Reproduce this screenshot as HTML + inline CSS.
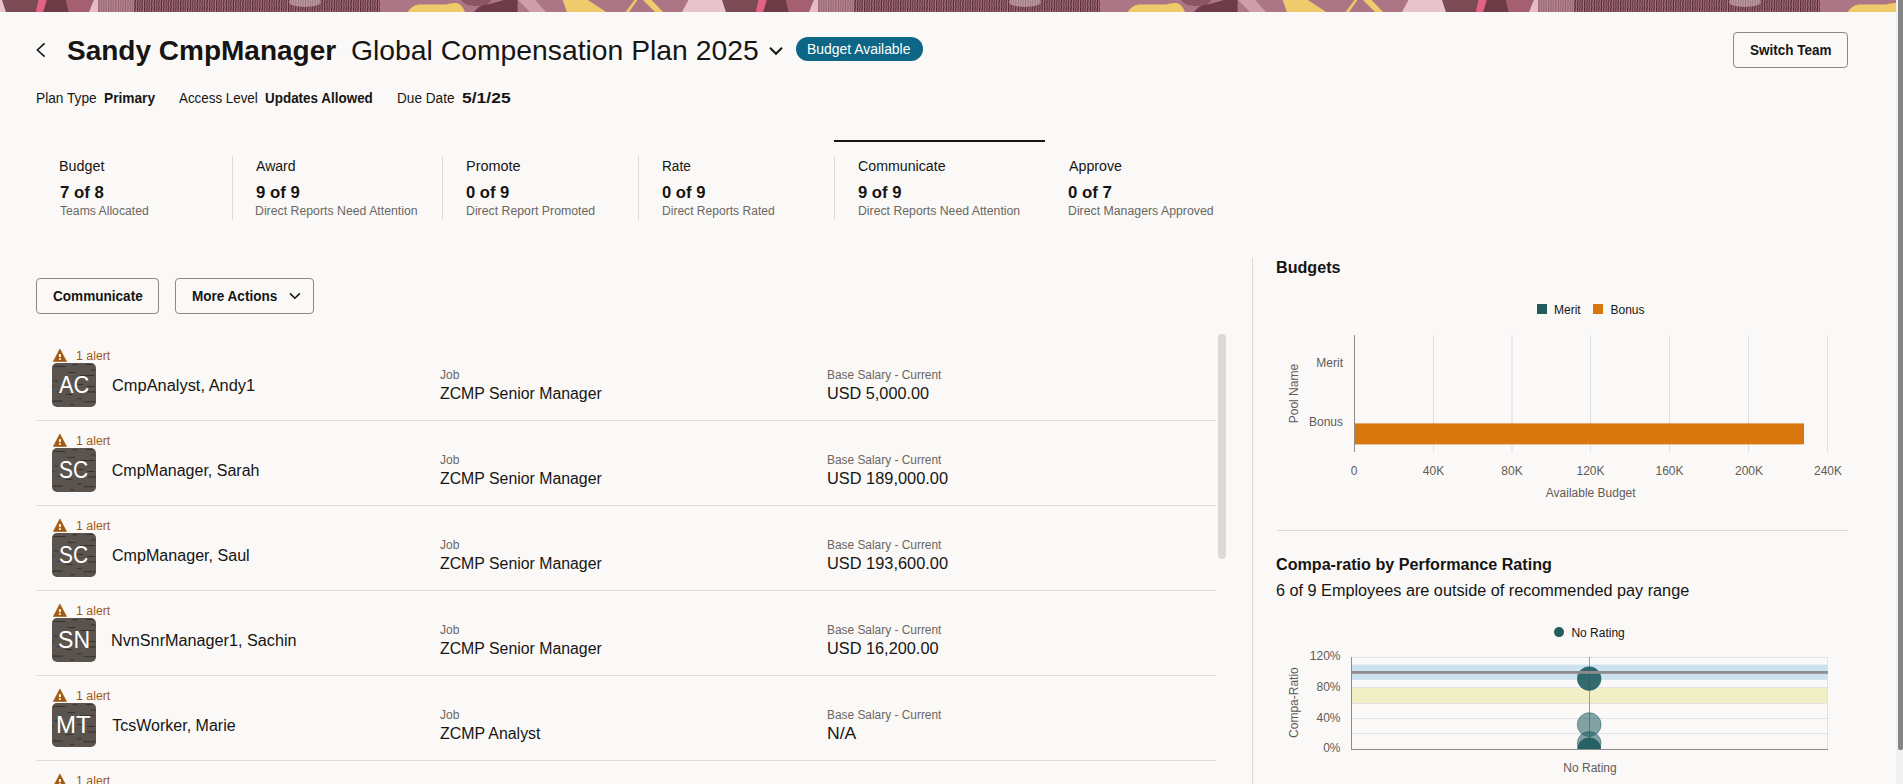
<!DOCTYPE html>
<html lang="en">
<head>
<meta charset="utf-8">
<title>Global Compensation Plan 2025 - Sandy CmpManager</title>
<style>
html,body{margin:0;padding:0;}
body{width:1903px;height:784px;overflow:hidden;background:#faf9f8;font-family:"Liberation Sans",Arial,sans-serif;color:#161513;position:relative;}
.t{position:absolute;white-space:nowrap;line-height:1;transform-origin:0 0;}
.abs{position:absolute;}
.banner{position:absolute;left:0;top:0;width:1896px;height:12px;overflow:hidden;}
.btn{position:absolute;box-sizing:border-box;border:1px solid #8d8984;border-radius:4px;}
.badge{position:absolute;left:796px;top:37px;width:127px;height:24px;border-radius:12px;background:#0d6685;}
.tabsel{position:absolute;left:834px;top:140px;width:211px;height:2px;background:#161513;}
.tdiv{position:absolute;top:156px;width:1px;height:64px;background:#dedbd7;}
.av{position:absolute;left:52px;width:44px;height:44px;border-radius:5px;overflow:hidden;background:#5b544e;color:#fff;}
.av svg{position:absolute;left:0;top:0;}
.av span{position:absolute;left:0;top:12px;width:44px;text-align:center;font-size:22px;line-height:1;}
.warn{position:absolute;left:53px;}
.sep{position:absolute;left:36px;width:1180px;height:1px;background:#dfdcd8;}
.vscroll{position:absolute;left:1218px;top:334px;width:8px;height:225px;border-radius:4px;background:#dcdad7;}
.vdiv{position:absolute;left:1252px;top:258px;width:1px;height:526px;background:#dcd9d5;}
.hdiv{position:absolute;left:1277px;top:530px;width:571px;height:1px;background:#dcd9d5;}
.pscroll{position:absolute;left:1896px;top:0;width:7px;height:784px;background:#f1f1f1;}
.pthumb{position:absolute;left:1898px;top:0;width:5px;height:750px;background:#858585;border-radius:0 0 2px 2px;}
svg text{font-family:"Liberation Sans",Arial,sans-serif;}
</style>
</head>
<body>
<!-- banner -->
<svg class="banner" width="1896" height="12" viewBox="0 0 1896 12">
 <defs>
  <pattern id="lines" width="7.2" height="12" patternUnits="userSpaceOnUse">
   <rect width="7.2" height="12" fill="#ab7684"/>
   <path d="M0.6,0 C1.8,2 -0.4,4 0.6,6 C1.6,8 -0.4,10 0.6,12 M3,0 C4.2,2 2,4 3,6 C4,8 2,10 3,12 M5.4,0 C6.6,2 4.4,4 5.4,6 C6.4,8 4.4,10 5.4,12" fill="none" stroke="#4f2430" stroke-width="1.15"/>
  </pattern>
  <pattern id="tile" width="720" height="12" patternUnits="userSpaceOnUse">
   <rect width="720" height="12" fill="#ac7684"/>
   <polygon points="-2,0 2.2,0 6,12 -2,12" fill="#e7c4cc"/>
   <polygon points="2.2,0 38.5,0 36,12 6,12" fill="#7a4a55"/>
   <polygon points="38.5,0 46.7,0 43.2,12 36,12" fill="#e5617f"/>
   <polygon points="46.7,0 66,0 69,12 43.2,12" fill="#6d3c47"/>
   <polygon points="66,0 94,0 89,12 69,12" fill="#a46070"/>
   <polygon points="94,0 98,0 98,12 89,12" fill="#e3bcc5"/>
   <rect x="98" y="0" width="282" height="12" fill="url(#lines)"/>
   <rect x="98" y="0" width="36" height="12" fill="#d7a9b5" opacity="0.45"/>
   <ellipse cx="305" cy="2" rx="16" ry="5" fill="#e9d3d8" opacity="0.45"/>
   <path d="M408,12 C410,8 414,5 420,4.5 L445,4.6 C449,4 452,2.8 456,3 C460,3.4 463,7 465,12 Z" fill="#f0cb6c"/>
   <path d="M461,0 L491,0 C489,4 484,6 476,6 C468,6 463,3 461,0 Z" fill="#8b5562"/>
   <path d="M474,12 C478,7 482,4 490,4 L504,0 L517.6,0 L517.6,12 Z" fill="#6d3c48"/>
   <polygon points="518,0 535,0 546,12 530,12" fill="#cf9eab"/>
   <polygon points="562.7,0 587.8,0 606.2,12 567,12" fill="#f0cb6c"/>
   <polygon points="634.6,0 637.4,0 629,12 625.6,12" fill="#f0cb6c"/>
   <polygon points="643,0 651.6,0 663,12 655,12" fill="#f0cb6c"/>
   <polygon points="688.5,0 722,0 726,12 682,12" fill="#e7c4cc"/>
  </pattern>
 </defs>
 <rect width="1896" height="12" fill="url(#tile)"/>
</svg>

<!-- header -->
<svg class="abs" style="left:30px;top:40px" width="20" height="20" viewBox="0 0 20 20"><polyline points="14.6,3.4 7.4,10 14.6,16.6" fill="none" stroke="#161513" stroke-width="1.6"/></svg>
<svg class="abs" style="left:766px;top:44px" width="20" height="14" viewBox="0 0 20 14"><polyline points="4,3.8 10,9.8 16,3.8" fill="none" stroke="#161513" stroke-width="2"/></svg>
<div class="badge"></div>
<div class="btn" style="left:1733px;top:32px;width:115px;height:36px;"></div>

<!-- tabs -->
<div class="tabsel"></div>
<div class="tdiv" style="left:232px"></div>
<div class="tdiv" style="left:442px"></div>
<div class="tdiv" style="left:638px"></div>
<div class="tdiv" style="left:834px"></div>

<!-- buttons -->
<div class="btn" style="left:36px;top:278px;width:123px;height:36px;"></div>
<div class="btn" style="left:175px;top:278px;width:139px;height:36px;"></div>
<svg class="abs" style="left:285px;top:288px" width="20" height="16" viewBox="0 0 20 16"><polyline points="5,5.4 9.9,10.2 14.8,5.4" fill="none" stroke="#161513" stroke-width="1.6"/></svg>

<!-- list -->
<div class="sep" style="top:420px"></div>
<div class="sep" style="top:505px"></div>
<div class="sep" style="top:590px"></div>
<div class="sep" style="top:675px"></div>
<div class="sep" style="top:760px"></div>
<svg class="warn" style="top:348px" width="15" height="15" viewBox="0 0 15 15"><path d="M6.9 0.9 L13.6 13.5 L0.3 13.5 Z" fill="#a35a10" stroke="#a35a10" stroke-width="0.6" stroke-linejoin="round"/><rect x="5.9" y="6.2" width="2" height="2.9" fill="#fff"/><rect x="5.9" y="10.3" width="2" height="1.6" fill="#fff"/></svg>
<svg class="warn" style="top:433px" width="15" height="15" viewBox="0 0 15 15"><path d="M6.9 0.9 L13.6 13.5 L0.3 13.5 Z" fill="#a35a10" stroke="#a35a10" stroke-width="0.6" stroke-linejoin="round"/><rect x="5.9" y="6.2" width="2" height="2.9" fill="#fff"/><rect x="5.9" y="10.3" width="2" height="1.6" fill="#fff"/></svg>
<svg class="warn" style="top:518px" width="15" height="15" viewBox="0 0 15 15"><path d="M6.9 0.9 L13.6 13.5 L0.3 13.5 Z" fill="#a35a10" stroke="#a35a10" stroke-width="0.6" stroke-linejoin="round"/><rect x="5.9" y="6.2" width="2" height="2.9" fill="#fff"/><rect x="5.9" y="10.3" width="2" height="1.6" fill="#fff"/></svg>
<svg class="warn" style="top:603px" width="15" height="15" viewBox="0 0 15 15"><path d="M6.9 0.9 L13.6 13.5 L0.3 13.5 Z" fill="#a35a10" stroke="#a35a10" stroke-width="0.6" stroke-linejoin="round"/><rect x="5.9" y="6.2" width="2" height="2.9" fill="#fff"/><rect x="5.9" y="10.3" width="2" height="1.6" fill="#fff"/></svg>
<svg class="warn" style="top:688px" width="15" height="15" viewBox="0 0 15 15"><path d="M6.9 0.9 L13.6 13.5 L0.3 13.5 Z" fill="#a35a10" stroke="#a35a10" stroke-width="0.6" stroke-linejoin="round"/><rect x="5.9" y="6.2" width="2" height="2.9" fill="#fff"/><rect x="5.9" y="10.3" width="2" height="1.6" fill="#fff"/></svg>
<svg class="warn" style="top:773px" width="15" height="15" viewBox="0 0 15 15"><path d="M6.9 0.9 L13.6 13.5 L0.3 13.5 Z" fill="#a35a10" stroke="#a35a10" stroke-width="0.6" stroke-linejoin="round"/><rect x="5.9" y="6.2" width="2" height="2.9" fill="#fff"/><rect x="5.9" y="10.3" width="2" height="1.6" fill="#fff"/></svg>
<div class="av" style="top:363px"><svg width="44" height="44" viewBox="0 0 44 44"><rect x="1.2" y="3" width="12.6" height="1.1" rx="0.5" fill="#2b2623" fill-opacity="0.75"/><rect x="20.2" y="1.3" width="5.2" height="1" rx="0.5" fill="#2b2623" fill-opacity="0.75"/><rect x="34" y="0.9" width="6.7" height="1" rx="0.5" fill="#2b2623" fill-opacity="0.75"/><rect x="38.6" y="6.4" width="4.9" height="1" rx="0.5" fill="#2b2623" fill-opacity="0.75"/><rect x="15.3" y="9" width="8.0" height="1" rx="0.5" fill="#2b2623" fill-opacity="0.75"/><rect x="28.2" y="12" width="14.4" height="1.1" rx="0.5" fill="#2b2623" fill-opacity="0.75"/><rect x="2" y="17.5" width="4.0" height="1" rx="0.5" fill="#2b2623" fill-opacity="0.75"/><rect x="0.3" y="22.8" width="2.1" height="1" rx="0.5" fill="#2b2623" fill-opacity="0.75"/><rect x="35.2" y="23" width="7.4" height="1" rx="0.5" fill="#2b2623" fill-opacity="0.75"/><rect x="25.4" y="21.1" width="5.8" height="1" rx="0.5" fill="#2b2623" fill-opacity="0.75"/><rect x="35.8" y="28.3" width="7.7" height="1.1" rx="0.5" fill="#2b2623" fill-opacity="0.75"/><rect x="5" y="28.2" width="3.0" height="0.9" rx="0.5" fill="#2b2623" fill-opacity="0.75"/><rect x="13.8" y="31.1" width="6.7" height="1" rx="0.5" fill="#2b2623" fill-opacity="0.75"/><rect x="25.1" y="35.2" width="4.6" height="1" rx="0.5" fill="#2b2623" fill-opacity="0.75"/><rect x="0.6" y="37.6" width="10.1" height="1.1" rx="0.5" fill="#2b2623" fill-opacity="0.75"/><rect x="31.2" y="38.2" width="12.3" height="1.1" rx="0.5" fill="#2b2623" fill-opacity="0.75"/><rect x="18" y="41.2" width="4.6" height="1" rx="0.5" fill="#2b2623" fill-opacity="0.75"/></svg></div>
<div class="av" style="top:448px"><svg width="44" height="44" viewBox="0 0 44 44"><rect x="1.2" y="3" width="12.6" height="1.1" rx="0.5" fill="#2b2623" fill-opacity="0.75"/><rect x="20.2" y="1.3" width="5.2" height="1" rx="0.5" fill="#2b2623" fill-opacity="0.75"/><rect x="34" y="0.9" width="6.7" height="1" rx="0.5" fill="#2b2623" fill-opacity="0.75"/><rect x="38.6" y="6.4" width="4.9" height="1" rx="0.5" fill="#2b2623" fill-opacity="0.75"/><rect x="15.3" y="9" width="8.0" height="1" rx="0.5" fill="#2b2623" fill-opacity="0.75"/><rect x="28.2" y="12" width="14.4" height="1.1" rx="0.5" fill="#2b2623" fill-opacity="0.75"/><rect x="2" y="17.5" width="4.0" height="1" rx="0.5" fill="#2b2623" fill-opacity="0.75"/><rect x="0.3" y="22.8" width="2.1" height="1" rx="0.5" fill="#2b2623" fill-opacity="0.75"/><rect x="35.2" y="23" width="7.4" height="1" rx="0.5" fill="#2b2623" fill-opacity="0.75"/><rect x="25.4" y="21.1" width="5.8" height="1" rx="0.5" fill="#2b2623" fill-opacity="0.75"/><rect x="35.8" y="28.3" width="7.7" height="1.1" rx="0.5" fill="#2b2623" fill-opacity="0.75"/><rect x="5" y="28.2" width="3.0" height="0.9" rx="0.5" fill="#2b2623" fill-opacity="0.75"/><rect x="13.8" y="31.1" width="6.7" height="1" rx="0.5" fill="#2b2623" fill-opacity="0.75"/><rect x="25.1" y="35.2" width="4.6" height="1" rx="0.5" fill="#2b2623" fill-opacity="0.75"/><rect x="0.6" y="37.6" width="10.1" height="1.1" rx="0.5" fill="#2b2623" fill-opacity="0.75"/><rect x="31.2" y="38.2" width="12.3" height="1.1" rx="0.5" fill="#2b2623" fill-opacity="0.75"/><rect x="18" y="41.2" width="4.6" height="1" rx="0.5" fill="#2b2623" fill-opacity="0.75"/></svg></div>
<div class="av" style="top:533px"><svg width="44" height="44" viewBox="0 0 44 44"><rect x="1.2" y="3" width="12.6" height="1.1" rx="0.5" fill="#2b2623" fill-opacity="0.75"/><rect x="20.2" y="1.3" width="5.2" height="1" rx="0.5" fill="#2b2623" fill-opacity="0.75"/><rect x="34" y="0.9" width="6.7" height="1" rx="0.5" fill="#2b2623" fill-opacity="0.75"/><rect x="38.6" y="6.4" width="4.9" height="1" rx="0.5" fill="#2b2623" fill-opacity="0.75"/><rect x="15.3" y="9" width="8.0" height="1" rx="0.5" fill="#2b2623" fill-opacity="0.75"/><rect x="28.2" y="12" width="14.4" height="1.1" rx="0.5" fill="#2b2623" fill-opacity="0.75"/><rect x="2" y="17.5" width="4.0" height="1" rx="0.5" fill="#2b2623" fill-opacity="0.75"/><rect x="0.3" y="22.8" width="2.1" height="1" rx="0.5" fill="#2b2623" fill-opacity="0.75"/><rect x="35.2" y="23" width="7.4" height="1" rx="0.5" fill="#2b2623" fill-opacity="0.75"/><rect x="25.4" y="21.1" width="5.8" height="1" rx="0.5" fill="#2b2623" fill-opacity="0.75"/><rect x="35.8" y="28.3" width="7.7" height="1.1" rx="0.5" fill="#2b2623" fill-opacity="0.75"/><rect x="5" y="28.2" width="3.0" height="0.9" rx="0.5" fill="#2b2623" fill-opacity="0.75"/><rect x="13.8" y="31.1" width="6.7" height="1" rx="0.5" fill="#2b2623" fill-opacity="0.75"/><rect x="25.1" y="35.2" width="4.6" height="1" rx="0.5" fill="#2b2623" fill-opacity="0.75"/><rect x="0.6" y="37.6" width="10.1" height="1.1" rx="0.5" fill="#2b2623" fill-opacity="0.75"/><rect x="31.2" y="38.2" width="12.3" height="1.1" rx="0.5" fill="#2b2623" fill-opacity="0.75"/><rect x="18" y="41.2" width="4.6" height="1" rx="0.5" fill="#2b2623" fill-opacity="0.75"/></svg></div>
<div class="av" style="top:618px"><svg width="44" height="44" viewBox="0 0 44 44"><rect x="1.2" y="3" width="12.6" height="1.1" rx="0.5" fill="#2b2623" fill-opacity="0.75"/><rect x="20.2" y="1.3" width="5.2" height="1" rx="0.5" fill="#2b2623" fill-opacity="0.75"/><rect x="34" y="0.9" width="6.7" height="1" rx="0.5" fill="#2b2623" fill-opacity="0.75"/><rect x="38.6" y="6.4" width="4.9" height="1" rx="0.5" fill="#2b2623" fill-opacity="0.75"/><rect x="15.3" y="9" width="8.0" height="1" rx="0.5" fill="#2b2623" fill-opacity="0.75"/><rect x="28.2" y="12" width="14.4" height="1.1" rx="0.5" fill="#2b2623" fill-opacity="0.75"/><rect x="2" y="17.5" width="4.0" height="1" rx="0.5" fill="#2b2623" fill-opacity="0.75"/><rect x="0.3" y="22.8" width="2.1" height="1" rx="0.5" fill="#2b2623" fill-opacity="0.75"/><rect x="35.2" y="23" width="7.4" height="1" rx="0.5" fill="#2b2623" fill-opacity="0.75"/><rect x="25.4" y="21.1" width="5.8" height="1" rx="0.5" fill="#2b2623" fill-opacity="0.75"/><rect x="35.8" y="28.3" width="7.7" height="1.1" rx="0.5" fill="#2b2623" fill-opacity="0.75"/><rect x="5" y="28.2" width="3.0" height="0.9" rx="0.5" fill="#2b2623" fill-opacity="0.75"/><rect x="13.8" y="31.1" width="6.7" height="1" rx="0.5" fill="#2b2623" fill-opacity="0.75"/><rect x="25.1" y="35.2" width="4.6" height="1" rx="0.5" fill="#2b2623" fill-opacity="0.75"/><rect x="0.6" y="37.6" width="10.1" height="1.1" rx="0.5" fill="#2b2623" fill-opacity="0.75"/><rect x="31.2" y="38.2" width="12.3" height="1.1" rx="0.5" fill="#2b2623" fill-opacity="0.75"/><rect x="18" y="41.2" width="4.6" height="1" rx="0.5" fill="#2b2623" fill-opacity="0.75"/></svg></div>
<div class="av" style="top:703px"><svg width="44" height="44" viewBox="0 0 44 44"><rect x="1.2" y="3" width="12.6" height="1.1" rx="0.5" fill="#2b2623" fill-opacity="0.75"/><rect x="20.2" y="1.3" width="5.2" height="1" rx="0.5" fill="#2b2623" fill-opacity="0.75"/><rect x="34" y="0.9" width="6.7" height="1" rx="0.5" fill="#2b2623" fill-opacity="0.75"/><rect x="38.6" y="6.4" width="4.9" height="1" rx="0.5" fill="#2b2623" fill-opacity="0.75"/><rect x="15.3" y="9" width="8.0" height="1" rx="0.5" fill="#2b2623" fill-opacity="0.75"/><rect x="28.2" y="12" width="14.4" height="1.1" rx="0.5" fill="#2b2623" fill-opacity="0.75"/><rect x="2" y="17.5" width="4.0" height="1" rx="0.5" fill="#2b2623" fill-opacity="0.75"/><rect x="0.3" y="22.8" width="2.1" height="1" rx="0.5" fill="#2b2623" fill-opacity="0.75"/><rect x="35.2" y="23" width="7.4" height="1" rx="0.5" fill="#2b2623" fill-opacity="0.75"/><rect x="25.4" y="21.1" width="5.8" height="1" rx="0.5" fill="#2b2623" fill-opacity="0.75"/><rect x="35.8" y="28.3" width="7.7" height="1.1" rx="0.5" fill="#2b2623" fill-opacity="0.75"/><rect x="5" y="28.2" width="3.0" height="0.9" rx="0.5" fill="#2b2623" fill-opacity="0.75"/><rect x="13.8" y="31.1" width="6.7" height="1" rx="0.5" fill="#2b2623" fill-opacity="0.75"/><rect x="25.1" y="35.2" width="4.6" height="1" rx="0.5" fill="#2b2623" fill-opacity="0.75"/><rect x="0.6" y="37.6" width="10.1" height="1.1" rx="0.5" fill="#2b2623" fill-opacity="0.75"/><rect x="31.2" y="38.2" width="12.3" height="1.1" rx="0.5" fill="#2b2623" fill-opacity="0.75"/><rect x="18" y="41.2" width="4.6" height="1" rx="0.5" fill="#2b2623" fill-opacity="0.75"/></svg></div>
<div class="vscroll"></div>

<!-- right panel -->
<div class="vdiv"></div>
<div class="hdiv"></div>

<svg class="abs" style="left:1260px;top:290px" width="600" height="220" viewBox="1260 290 600 220">
 <!-- legend -->
 <rect x="1537" y="304" width="10" height="10" fill="#235b5f"/>
 <text x="1554" y="313.6" font-size="12" fill="#161513">Merit</text>
 <rect x="1593" y="304" width="10" height="10" fill="#d9770f"/>
 <text x="1610.5" y="313.6" font-size="12" fill="#161513">Bonus</text>
 <!-- gridlines -->
 <g stroke="#dfdee6" stroke-width="1">
  <line x1="1433.5" y1="335" x2="1433.5" y2="452"/>
  <line x1="1512" y1="335" x2="1512" y2="452"/>
  <line x1="1590.5" y1="335" x2="1590.5" y2="452"/>
  <line x1="1669.5" y1="335" x2="1669.5" y2="452"/>
  <line x1="1748.5" y1="335" x2="1748.5" y2="452"/>
  <line x1="1827.5" y1="335" x2="1827.5" y2="452"/>
 </g>
 <rect x="1355" y="423.4" width="449" height="21" fill="#d9770f"/>
 <line x1="1354.5" y1="335" x2="1354.5" y2="452" stroke="#8f8c88" stroke-width="1"/>
 <g font-size="12" fill="#5f5b57">
  <text x="1343" y="367.1" text-anchor="end">Merit</text>
  <text x="1343" y="426.3" text-anchor="end">Bonus</text>
  <text x="1354.2" y="475.1" text-anchor="middle">0</text>
  <text x="1433.5" y="475.1" text-anchor="middle">40K</text>
  <text x="1512" y="475.1" text-anchor="middle">80K</text>
  <text x="1590.5" y="475.1" text-anchor="middle">120K</text>
  <text x="1669.5" y="475.1" text-anchor="middle">160K</text>
  <text x="1749" y="475.1" text-anchor="middle">200K</text>
  <text x="1828" y="475.1" text-anchor="middle">240K</text>
  <text x="1590.7" y="497" text-anchor="middle">Available Budget</text>
  <text transform="translate(1298,393.6) rotate(-90)" text-anchor="middle">Pool Name</text>
 </g>
</svg>

<svg class="abs" style="left:1260px;top:615px" width="600" height="169" viewBox="1260 615 600 169">
 <defs><clipPath id="plotclip"><rect x="1351" y="657" width="477" height="92.3"/></clipPath></defs>
 <circle cx="1559" cy="632.1" r="5" fill="#235b5f"/>
 <text x="1571.4" y="636.7" font-size="12" fill="#161513">No Rating</text>
 <!-- bands -->
 <rect x="1352" y="664.6" width="476" height="15.2" fill="#cde2f1"/>
 <rect x="1352" y="687.4" width="476" height="15.9" fill="#f0efc6"/>
 <g stroke="#e2e1e8" stroke-width="1">
  <line x1="1351" y1="657.5" x2="1828" y2="657.5"/>
  <line x1="1351" y1="687.5" x2="1828" y2="687.5"/>
  <line x1="1351" y1="703.5" x2="1828" y2="703.5"/>
  <line x1="1351" y1="718.5" x2="1828" y2="718.5"/>
  <line x1="1351" y1="733.5" x2="1828" y2="733.5"/>
  <line x1="1827.5" y1="657" x2="1827.5" y2="749"/>
 </g>
 <line x1="1589.5" y1="657" x2="1589.5" y2="749" stroke="#9d9a97" stroke-width="1"/>
 <g clip-path="url(#plotclip)">
  <circle cx="1589.2" cy="678.6" r="11.9" fill="#1f5b5f" fill-opacity="0.9" stroke="#1f5b5f" stroke-opacity="0.5"/>
  <circle cx="1589.2" cy="724.6" r="11.9" fill="#1f5b5f" fill-opacity="0.55" stroke="#1f5b5f" stroke-opacity="0.5"/>
  <circle cx="1589.2" cy="743.4" r="11.9" fill="#1f5b5f" fill-opacity="0.55" stroke="#1f5b5f" stroke-opacity="0.5"/>
  <circle cx="1589.2" cy="749.5" r="11.9" fill="#1f5b5f" fill-opacity="0.9"/>
 </g>
 <rect x="1351" y="671" width="477" height="2.8" fill="#8f8b8c"/>
 <line x1="1351.5" y1="657" x2="1351.5" y2="750" stroke="#8f8c88" stroke-width="1"/>
 <line x1="1351" y1="749.5" x2="1828" y2="749.5" stroke="#8f8c88" stroke-width="1"/>
 <g font-size="12" fill="#5f5b57">
  <text x="1340.5" y="660.2" text-anchor="end">120%</text>
  <text x="1340.5" y="691.1" text-anchor="end">80%</text>
  <text x="1340.5" y="721.9" text-anchor="end">40%</text>
  <text x="1340.5" y="751.8" text-anchor="end">0%</text>
  <text x="1590" y="772.1" text-anchor="middle">No Rating</text>
  <text transform="translate(1298,702.6) rotate(-90)" text-anchor="middle">Compa-Ratio</text>
 </g>
</svg>

<!-- texts -->
<div class="t" style="top:37px;font-size:28px;font-weight:700;color:#161513;left:67.00px;">Sandy CmpManager</div>
<div class="t" style="top:37px;font-size:28px;font-weight:400;color:#161513;left:351.18px;transform:scaleX(1.0112);">Global Compensation Plan 2025</div>
<div class="t" style="top:42px;font-size:14px;font-weight:400;color:#ffffff;left:807.41px;transform:scaleX(0.9942);">Budget Available</div>
<div class="t" style="top:43px;font-size:14px;font-weight:700;color:#161513;left:1750.21px;transform:scaleX(0.9652);">Switch Team</div>
<div class="t" style="top:91px;font-size:14px;font-weight:400;color:#161513;left:35.62px;transform:scaleX(0.9785);">Plan Type</div>
<div class="t" style="top:91px;font-size:14px;font-weight:700;color:#161513;left:103.92px;transform:scaleX(0.9785);">Primary</div>
<div class="t" style="top:91px;font-size:14px;font-weight:400;color:#161513;left:179.10px;transform:scaleX(0.9547);">Access Level</div>
<div class="t" style="top:91px;font-size:14px;font-weight:700;color:#161513;left:265.33px;transform:scaleX(0.9604);">Updates Allowed</div>
<div class="t" style="top:91px;font-size:14px;font-weight:400;color:#161513;left:396.93px;transform:scaleX(0.9721);">Due Date</div>
<div class="t" style="top:91px;font-size:14px;font-weight:700;color:#161513;left:462.30px;transform:scaleX(1.2487);">5/1/25</div>
<div class="t" style="top:159px;font-size:14px;font-weight:400;color:#161513;left:59.37px;transform:scaleX(1.0231);">Budget</div>
<div class="t" style="top:185px;font-size:16px;font-weight:700;color:#161513;left:59.77px;transform:scaleX(1.0468);">7 of 8</div>
<div class="t" style="top:205px;font-size:12px;font-weight:400;color:#6b6660;left:60.20px;transform:scaleX(1.0149);">Teams Allocated</div>
<div class="t" style="top:159px;font-size:14px;font-weight:400;color:#161513;left:256.30px;transform:scaleX(1.0052);">Award</div>
<div class="t" style="top:185px;font-size:16px;font-weight:700;color:#161513;left:255.78px;transform:scaleX(1.0467);">9 of 9</div>
<div class="t" style="top:205px;font-size:12px;font-weight:400;color:#6b6660;left:255.28px;transform:scaleX(1.0247);">Direct Reports Need Attention</div>
<div class="t" style="top:159px;font-size:14px;font-weight:400;color:#161513;left:465.66px;transform:scaleX(1.0332);">Promote</div>
<div class="t" style="top:185px;font-size:16px;font-weight:700;color:#161513;left:466.18px;transform:scaleX(1.0369);">0 of 9</div>
<div class="t" style="top:205px;font-size:12px;font-weight:400;color:#6b6660;left:465.78px;transform:scaleX(1.0249);">Direct Report Promoted</div>
<div class="t" style="top:159px;font-size:14px;font-weight:400;color:#161513;left:661.83px;transform:scaleX(0.9748);">Rate</div>
<div class="t" style="top:185px;font-size:16px;font-weight:700;color:#161513;left:662.28px;transform:scaleX(1.0394);">0 of 9</div>
<div class="t" style="top:205px;font-size:12px;font-weight:400;color:#6b6660;left:661.89px;transform:scaleX(1.0054);">Direct Reports Rated</div>
<div class="t" style="top:159px;font-size:14px;font-weight:400;color:#161513;left:858.19px;transform:scaleX(1.0141);">Communicate</div>
<div class="t" style="top:185px;font-size:16px;font-weight:700;color:#161513;left:858.38px;transform:scaleX(1.0393);">9 of 9</div>
<div class="t" style="top:205px;font-size:12px;font-weight:400;color:#6b6660;left:857.88px;transform:scaleX(1.0216);">Direct Reports Need Attention</div>
<div class="t" style="top:159px;font-size:14px;font-weight:400;color:#161513;left:1068.80px;transform:scaleX(1.0155);">Approve</div>
<div class="t" style="top:185px;font-size:16px;font-weight:700;color:#161513;left:1068.17px;transform:scaleX(1.0519);">0 of 7</div>
<div class="t" style="top:205px;font-size:12px;font-weight:400;color:#6b6660;left:1067.78px;transform:scaleX(1.0248);">Direct Managers Approved</div>
<div class="t" style="top:289px;font-size:14px;font-weight:700;color:#161513;left:52.72px;transform:scaleX(0.9694);">Communicate</div>
<div class="t" style="top:289px;font-size:14px;font-weight:700;color:#161513;left:191.53px;transform:scaleX(0.9667);">More Actions</div>
<div class="t" style="top:350px;font-size:12px;font-weight:400;color:#a35a10;left:75.98px;transform:scaleX(1.0278);">1 alert</div>
<div class="t" style="top:378px;font-size:16px;font-weight:400;color:#161513;left:111.78px;transform:scaleX(1.0252);">CmpAnalyst, Andy1</div>
<div class="t" style="top:369px;font-size:12px;font-weight:400;color:#6b6660;left:440.00px;">Job</div>
<div class="t" style="top:386px;font-size:16px;font-weight:400;color:#161513;left:440.00px;transform:scaleX(0.9902);">ZCMP Senior Manager</div>
<div class="t" style="top:369px;font-size:12px;font-weight:400;color:#6b6660;left:827.31px;transform:scaleX(0.9913);">Base Salary - Current</div>
<div class="t" style="top:386px;font-size:16px;font-weight:400;color:#161513;left:827.08px;transform:scaleX(1.0152);">USD 5,000.00</div>
<div class="t" style="top:435px;font-size:12px;font-weight:400;color:#a35a10;left:75.98px;transform:scaleX(1.0278);">1 alert</div>
<div class="t" style="top:463px;font-size:16px;font-weight:400;color:#161513;left:111.80px;">CmpManager, Sarah</div>
<div class="t" style="top:454px;font-size:12px;font-weight:400;color:#6b6660;left:440.00px;">Job</div>
<div class="t" style="top:471px;font-size:16px;font-weight:400;color:#161513;left:440.00px;transform:scaleX(0.9902);">ZCMP Senior Manager</div>
<div class="t" style="top:454px;font-size:12px;font-weight:400;color:#6b6660;left:827.31px;transform:scaleX(0.9913);">Base Salary - Current</div>
<div class="t" style="top:471px;font-size:16px;font-weight:400;color:#161513;left:827.07px;transform:scaleX(1.0232);">USD 189,000.00</div>
<div class="t" style="top:520px;font-size:12px;font-weight:400;color:#a35a10;left:75.98px;transform:scaleX(1.0278);">1 alert</div>
<div class="t" style="top:548px;font-size:16px;font-weight:400;color:#161513;left:111.80px;transform:scaleX(1.0052);">CmpManager, Saul</div>
<div class="t" style="top:539px;font-size:12px;font-weight:400;color:#6b6660;left:440.00px;">Job</div>
<div class="t" style="top:556px;font-size:16px;font-weight:400;color:#161513;left:440.00px;transform:scaleX(0.9902);">ZCMP Senior Manager</div>
<div class="t" style="top:539px;font-size:12px;font-weight:400;color:#6b6660;left:827.31px;transform:scaleX(0.9913);">Base Salary - Current</div>
<div class="t" style="top:556px;font-size:16px;font-weight:400;color:#161513;left:827.07px;transform:scaleX(1.0232);">USD 193,600.00</div>
<div class="t" style="top:605px;font-size:12px;font-weight:400;color:#a35a10;left:75.98px;transform:scaleX(1.0278);">1 alert</div>
<div class="t" style="top:633px;font-size:16px;font-weight:400;color:#161513;left:111.28px;transform:scaleX(1.0127);">NvnSnrManager1, Sachin</div>
<div class="t" style="top:624px;font-size:12px;font-weight:400;color:#6b6660;left:440.00px;">Job</div>
<div class="t" style="top:641px;font-size:16px;font-weight:400;color:#161513;left:440.00px;transform:scaleX(0.9902);">ZCMP Senior Manager</div>
<div class="t" style="top:624px;font-size:12px;font-weight:400;color:#6b6660;left:827.31px;transform:scaleX(0.9913);">Base Salary - Current</div>
<div class="t" style="top:641px;font-size:16px;font-weight:400;color:#161513;left:827.08px;transform:scaleX(1.0195);">USD 16,200.00</div>
<div class="t" style="top:690px;font-size:12px;font-weight:400;color:#a35a10;left:75.98px;transform:scaleX(1.0278);">1 alert</div>
<div class="t" style="top:718px;font-size:16px;font-weight:400;color:#161513;left:112.30px;">TcsWorker, Marie</div>
<div class="t" style="top:709px;font-size:12px;font-weight:400;color:#6b6660;left:440.00px;">Job</div>
<div class="t" style="top:726px;font-size:16px;font-weight:400;color:#161513;left:440.00px;transform:scaleX(0.9941);">ZCMP Analyst</div>
<div class="t" style="top:709px;font-size:12px;font-weight:400;color:#6b6660;left:827.31px;transform:scaleX(0.9913);">Base Salary - Current</div>
<div class="t" style="top:726px;font-size:16px;font-weight:400;color:#161513;left:826.87px;transform:scaleX(1.0988);">N/A</div>
<div class="t" style="top:775px;font-size:12px;font-weight:400;color:#a35a10;left:75.98px;transform:scaleX(1.0278);">1 alert</div>
<div class="t" style="top:374px;font-size:23px;font-weight:400;color:#ffffff;left:58.81px;transform:scaleX(0.9484);">AC</div>
<div class="t" style="top:459px;font-size:23px;font-weight:400;color:#ffffff;left:59.10px;transform:scaleX(0.9100);">SC</div>
<div class="t" style="top:544px;font-size:23px;font-weight:400;color:#ffffff;left:59.10px;transform:scaleX(0.9100);">SC</div>
<div class="t" style="top:629px;font-size:23px;font-weight:400;color:#ffffff;left:57.79px;transform:scaleX(1.0069);">SN</div>
<div class="t" style="top:714px;font-size:23px;font-weight:400;color:#ffffff;left:55.91px;transform:scaleX(1.0455);">MT</div>
<div class="t" style="top:260px;font-size:16px;font-weight:700;color:#161513;left:1276.09px;transform:scaleX(1.0080);">Budgets</div>
<div class="t" style="top:557px;font-size:16px;font-weight:700;color:#161513;left:1276.40px;transform:scaleX(1.0073);">Compa-ratio by Performance Rating</div>
<div class="t" style="top:583px;font-size:16px;font-weight:400;color:#161513;left:1276.19px;transform:scaleX(1.0143);">6 of 9 Employees are outside of recommended pay range</div>

<div class="pscroll"></div>
<div class="pthumb"></div>
</body>
</html>
